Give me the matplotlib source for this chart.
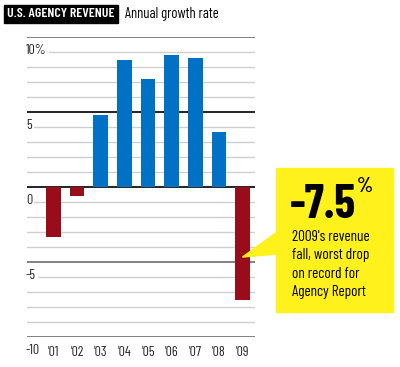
import numpy as np
import matplotlib
matplotlib.use("Agg")
import matplotlib.pyplot as plt
from matplotlib.patches import Rectangle, Polygon

# data
years = ["'01", "'02", "'03", "'04", "'05", "'06", "'07", "'08", "'09"]
growth = [-3.3, -0.6, 4.8, 8.5, 7.2, 8.8, 8.6, 3.7, -7.5]
tick_vals = [10, 5, 0, -5, -10]
tick_labels = ["10%", "5", "0", "-5", "-10"]

BLUE = "#0071c5"
RED = "#990d1a"
YELLOW = "#fff21c"
NARROW = ["Barlow Condensed", "DejaVu Sans"]

W, H = 400, 367
fig = plt.figure(figsize=(W / 100, H / 100), dpi=100)

def fx(px):
    return px / W

def fy(py):
    return 1 - py / H

ax = fig.add_axes([fx(27), fy(337), fx(255) - fx(27), fy(37) - fy(337)])
ax.set_xlim(-1.12, 8.53)
ax.set_ylim(-10, 10)
ax.axis("off")

# grid: light lines every 1, heavy every 5
for v in range(-10, 11):
    if v % 5 == 0:
        c = "#111111" if v in (5, 0) else "#777777"
        ax.axhline(v, color=c, linewidth=1.3, zorder=1)
    else:
        ax.axhline(v, color="#cfcfcf", linewidth=1.0, zorder=1)

x = np.arange(len(years))
colors = [BLUE if g >= 0 else RED for g in growth]
ax.bar(x, growth, width=0.62, color=colors, zorder=3)

# tick labels sit just below each heavy line
for v, lab in zip(tick_vals, tick_labels):
    ax.text(-0.005, v - 0.9, lab, transform=ax.get_yaxis_transform(),
            ha="left", va="center", fontsize=10, family=NARROW, color="#222222",
            bbox=dict(facecolor="white", edgecolor="none", pad=1.5), zorder=4)

for xi, lab in zip(x, years):
    ax.text(xi, -11.0, lab, ha="center", va="center", fontsize=10,
            family=NARROW, color="#222222", clip_on=False)

# title
fig.add_artist(Rectangle((fx(4), fy(23)), fx(118) - fx(4), fy(5) - fy(23),
                         transform=fig.transFigure, color="black"))
fig.text(fx(61), fy(14), "U.S. AGENCY REVENUE", ha="center", va="center",
         color="white", fontsize=10, fontweight="semibold", family=NARROW)
fig.text(fx(125), fy(14), "Annual growth rate", ha="left", va="center",
         color="black", fontsize=10.5, family=NARROW)

# callout box with pointer to the 2009 bar
fig.add_artist(Rectangle((fx(276), fy(312)), fx(393) - fx(276), fy(168) - fy(312),
                         transform=fig.transFigure, color=YELLOW, zorder=5))
fig.canvas.draw()
tip = ax.transData.transform((x[-1], -4.67))
tip = fig.transFigure.inverted().transform(tip)
fig.add_artist(Polygon([(tip[0], tip[1]), (fx(277), fy(232)), (fx(277), fy(254))],
                       closed=True, transform=fig.transFigure, color=YELLOW, zorder=5))

fig.text(fx(290), fy(205), "-7.5", ha="left", va="center", fontsize=34,
         fontweight="bold", family=NARROW, color="black", zorder=6)
fig.text(fx(357), fy(187), "%", ha="left", va="center", fontsize=15,
         fontweight="semibold", family=NARROW, color="black", zorder=6)
note = ["2009's revenue", "fall, worst drop", "on record for", "Agency Report"]
for i, line in enumerate(note):
    fig.text(fx(292), fy(237 + i * 18.3), line, ha="left", va="center",
             fontsize=11, family=NARROW, color="black", zorder=6)

fig.savefig("out.png", dpi=100)
